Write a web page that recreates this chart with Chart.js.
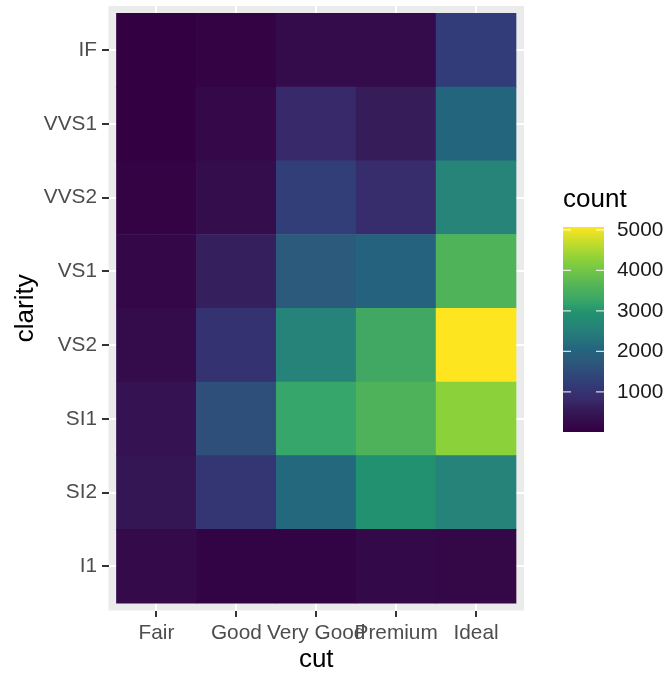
<!DOCTYPE html>
<html>
<head>
<meta charset="utf-8">
<script src="https://cdn.jsdelivr.net/npm/chart.js@4/dist/chart.umd.min.js"></script>
<style>
  html, body { margin: 0; padding: 0; background: #fff; }
  #wrap { width: 669px; height: 675px; }
</style>
</head>
<body>
<div id="wrap"><canvas id="heat"></canvas></div>
<script>
// diamonds: count of cut x clarity
const cuts = ['Fair', 'Good', 'Very Good', 'Premium', 'Ideal'];
const clarities = ['I1', 'SI2', 'SI1', 'VS2', 'VS1', 'VVS2', 'VVS1', 'IF'];

const countI1   = [210,   96,   84,  205,  146];
const countSI2  = [466, 1081, 2100, 2949, 2598];
const countSI1  = [408, 1560, 3240, 3575, 4282];
const countVS2  = [261,  978, 2591, 3357, 5071];
const countVS1  = [170,  648, 1775, 1989, 3589];
const countVVS2 = [ 69,  286, 1235,  870, 2606];
const countVVS1 = [ 17,  186,  789,  616, 2047];
const countIF   = [  9,   71,  268,  230, 1212];

const legendTicks = [1000, 2000, 3000, 4000, 5000];

const countsByClarity = [countI1, countSI2, countSI1, countVS2, countVS1, countVVS2, countVVS1, countIF];
const allCounts = countsByClarity.flat();
const countMin = Math.min(...allCounts);
const countMax = Math.max(...allCounts);

const FONT = '"Liberation Sans", Arial, Helvetica, sans-serif';

// viridis-like colour ramp (as rendered in the reference)
const rampPos    = [0, 0.12, 0.154, 0.24, 0.348, 0.40, 0.51, 0.58, 0.638, 0.66, 0.707, 0.844, 1];
const rampColors = ['#330042', '#361d5a', '#38296b', '#323d78', '#2c5a7c', '#24647e', '#268379',
                    '#22916f', '#37a66a', '#40a862', '#4fb35a', '#8bd23a', '#fde51f'];
function hexRgb(h) {
  return [parseInt(h.slice(1, 3), 16), parseInt(h.slice(3, 5), 16), parseInt(h.slice(5, 7), 16)];
}
function viridis(t) {
  t = Math.max(0, Math.min(1, t));
  let i = 0;
  while (i < rampPos.length - 2 && t > rampPos[i + 1]) i++;
  const f = (t - rampPos[i]) / (rampPos[i + 1] - rampPos[i]);
  const a = hexRgb(rampColors[i]), b = hexRgb(rampColors[i + 1]);
  const c = a.map((v, j) => Math.round(v + (b[j] - v) * f));
  return 'rgb(' + c.join(',') + ')';
}
function colorFor(v) {
  return viridis((v - countMin) / (countMax - countMin));
}

const datasets = clarities.map((cl, k) => ({
  label: cl,
  data: cuts.map((c, i) => ({ x: i + 1, y: [k + 0.5, k + 1.5] })),
  backgroundColor: countsByClarity[k].map(colorFor),
  borderWidth: 0,
  grouped: false,
  barPercentage: 1,
  categoryPercentage: 1
}));

const panelBg = {
  id: 'panelBg',
  beforeDraw(chart) {
    const { ctx, chartArea: a } = chart;
    ctx.save();
    ctx.fillStyle = '#EBEBEB';
    ctx.fillRect(a.left, a.top, a.right - a.left, a.bottom - a.top);
    ctx.restore();
  }
};

// colourbar legend on the right
const colorBar = {
  id: 'colorBar',
  afterDraw(chart) {
    const ctx = chart.ctx;
    const x0 = 563, w = 41, top = 227, bottom = 432;
    const yOf = v => bottom - (v - countMin) / (countMax - countMin) * (bottom - top);
    ctx.save();
    ctx.fillStyle = '#000';
    ctx.font = '26px ' + FONT;
    ctx.textAlign = 'left';
    ctx.textBaseline = 'alphabetic';
    ctx.fillText('count', 563, 207);

    const g = ctx.createLinearGradient(0, bottom, 0, top);
    for (let s = 0; s <= 40; s++) g.addColorStop(s / 40, viridis(s / 40));
    ctx.fillStyle = g;
    ctx.fillRect(x0, top, w, bottom - top);

    ctx.strokeStyle = 'rgba(255,255,255,0.8)';
    ctx.lineWidth = 1.2;
    ctx.font = '20.8px ' + FONT;
    ctx.textBaseline = 'middle';
    ctx.fillStyle = '#1a1a1a';
    legendTicks.forEach(v => {
      const y = yOf(v);
      ctx.beginPath();
      ctx.moveTo(x0, y); ctx.lineTo(x0 + 8, y);
      ctx.moveTo(x0 + w - 8, y); ctx.lineTo(x0 + w, y);
      ctx.stroke();
      ctx.fillText(String(v), 617, y);
    });
    ctx.restore();
  }
};

const axisCommon = {
  type: 'linear',
  offset: false,
  border: { display: false },
  grid: { offset: false, color: '#FFFFFF', lineWidth: 2, tickColor: '#333333', tickWidth: 2, tickLength: 6.5 },
};

new Chart(document.getElementById('heat'), {
  type: 'bar',
  data: { datasets },
  options: {
    responsive: true,
    maintainAspectRatio: false,
    animation: false,
    layout: { padding: { left: 0, right: 145, top: 6, bottom: 0 } },
    plugins: { legend: { display: false }, tooltip: { enabled: false } },
    scales: {
      x: {
        ...axisCommon,
        min: 0.4, max: 5.6,
        afterBuildTicks: s => { s.ticks = cuts.map((c, i) => ({ value: i + 1 })); },
        afterFit: s => { s.height = 64.5; s.paddingLeft = 0; s.paddingRight = 0; },
        ticks: {
          callback: v => cuts[Math.round(v) - 1],
          autoSkip: false, maxRotation: 0, minRotation: 0,
          color: '#4D4D4D', padding: 4,
          font: { family: FONT, size: 20.8 }
        },
        title: {
          display: true, text: 'cut', color: '#000',
          font: { family: FONT, size: 26, lineHeight: 1.2 },
          padding: { top: 0, bottom: 0 }
        }
      },
      y: {
        ...axisCommon,
        min: 0.4, max: 8.6,
        afterBuildTicks: s => { s.ticks = clarities.map((c, i) => ({ value: i + 1 })); },
        afterFit: s => { s.width = 108.5; s.paddingTop = 0; s.paddingBottom = 0; },
        ticks: {
          callback: v => clarities[Math.round(v) - 1],
          autoSkip: false,
          color: '#4D4D4D', padding: 5,
          font: { family: FONT, size: 20.8 }
        },
        title: {
          display: true, text: 'clarity', color: '#000',
          font: { family: FONT, size: 26, lineHeight: 1.2 },
          padding: { top: 10, bottom: 0 }
        }
      }
    }
  },
  plugins: [panelBg, colorBar]
});
</script>
</body>
</html>
